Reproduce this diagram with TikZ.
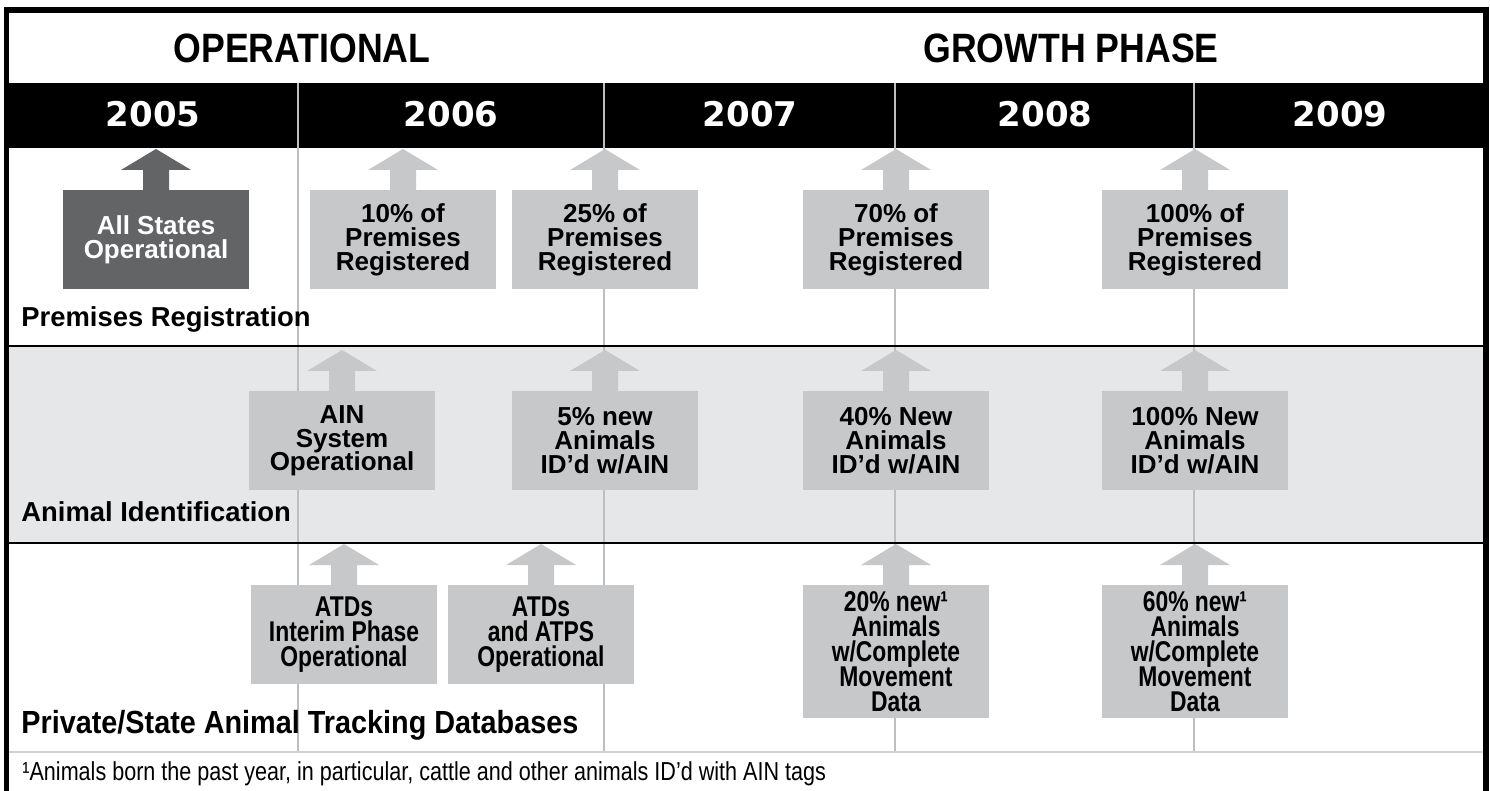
\documentclass[tikz,border=0pt]{standalone}
\usepackage{fontspec}
\setmainfont{Liberation Sans}
\newfontfamily\headfont{Liberation Sans}[FakeStretch=0.87]
\newfontfamily\yearfont{DejaVu Sans}
\newfontfamily\narrowfont{Liberation Sans}[FakeStretch=0.8]
\newfontfamily\rowlabelnarrow{Liberation Sans}[FakeStretch=0.9]
\newfontfamily\notefont{Liberation Sans}[FakeStretch=0.83]
\usetikzlibrary{calc}

\definecolor{boxgray}{HTML}{C7C8CA}
\definecolor{darkbox}{HTML}{636466}
\definecolor{bandgray}{HTML}{E6E7E8}
\definecolor{rulegray}{HTML}{BDBEC0}
\definecolor{notegray}{HTML}{D0D1D3}

\tikzset{
  milestone/.style={fill=boxgray, minimum width=93pt, minimum height=49.5pt,
    inner sep=0pt, align=center, anchor=north,
    font=\bfseries\fontsize{13}{11.9}\selectfont},
  milestonedark/.style={milestone, fill=darkbox, text=white},
  milestonenarrow/.style={milestone,
    font=\narrowfont\bfseries\fontsize{14.3}{12.5}\selectfont},
  milestonetall/.style={milestonenarrow, minimum height=66.5pt},
  phasetitle/.style={anchor=base, font=\headfont\bfseries\fontsize{20.5}{21}\selectfont},
  yeartitle/.style={anchor=base, text=white, font=\yearfont\bfseries\fontsize{17}{18}\selectfont},
  rowlabel/.style={anchor=base west, inner sep=0pt, font=\bfseries\fontsize{13.7}{14}\selectfont},
  divider/.style={draw=rulegray, line width=0.75pt},
  rowrule/.style={draw=black, line width=1.4pt},
}

% block arrow pointing up from the top edge of a milestone box
\newcommand\milearrow[2]{%
  \fill[#2] ($(#1.north)+(-13,0)$) -- ++(0,-20) -- ++(-22,0) -- ++(35,-21)
    -- ++(35,21) -- ++(-22,0) -- ++(0,20) -- cycle;}

\begin{document}
% keep line spacing even inside the tightly set boxes
\lineskiplimit=-20pt\relax
\begin{tikzpicture}[x=0.5pt,y=-0.5pt]
\useasboundingbox (0,0) rectangle (1490,791);

% row backgrounds and year band
\fill[bandgray] (9,346) rectangle (1483,543);
\fill[black] (9,83) rectangle (1483,148);

% year dividers
\foreach \x in {298,604,895,1194}
  \draw[divider] (\x,83) -- (\x,752);

% row and footnote rules
\draw[rowrule] (9,346) -- (1483,346);
\draw[rowrule] (9,543) -- (1483,543);
\draw[draw=notegray, line width=1pt] (9,752) -- (1483,752);

% outer frame
\draw[line width=2.9pt, line join=miter] (6.5,795) -- (6.5,10) -- (1486,10) -- (1486,795);

% phase titles
\node[phasetitle] (phaseop) at (302,63) {OPERATIONAL};
\node[phasetitle] (phasegr) at (1071,63) {GROWTH PHASE};

% years
\node[yeartitle] (y2005) at (153,127) {2005};
\node[yeartitle] (y2006) at (451,127) {2006};
\node[yeartitle] (y2007) at (750,127) {2007};
\node[yeartitle] (y2008) at (1045,127) {2008};
\node[yeartitle] (y2009) at (1340,127) {2009};

% premises registration
\node[milestonedark] (pr1) at (156,190) {All States\\Operational};
\node[milestone] (pr2) at (403,190) {10\% of\\Premises\\Registered};
\node[milestone] (pr3) at (605,190) {25\% of\\Premises\\Registered};
\node[milestone] (pr4) at (896,190) {70\% of\\Premises\\Registered};
\node[milestone] (pr5) at (1195,190) {100\% of\\Premises\\Registered};
\milearrow{pr1}{darkbox}
\foreach \n in {pr2,pr3,pr4,pr5} {\milearrow{\n}{boxgray}}

% animal identification
\node[milestone] (ai1) at (342,391) {AIN\\System\\Operational};
\node[milestone] (ai2) at (605,391) {5\% new\\Animals\\ID’d w/AIN};
\node[milestone] (ai3) at (896,391) {40\% New\\Animals\\ID’d w/AIN};
\node[milestone] (ai4) at (1195,391) {100\% New\\Animals\\ID’d w/AIN};
\foreach \n in {ai1,ai2,ai3,ai4} {\milearrow{\n}{boxgray}}

% animal tracking databases
\node[milestonenarrow] (tr1) at (344,585) {ATDs\\Interim Phase\\Operational};
\node[milestonenarrow] (tr2) at (541,585) {ATDs\\and ATPS\\Operational};
\node[milestonetall] (tr3) at (896,585) {20\% new¹\\Animals\\w/Complete\\Movement\\Data};
\node[milestonetall] (tr4) at (1195,585) {60\% new¹\\Animals\\w/Complete\\Movement\\Data};
\foreach \n in {tr1,tr2,tr3,tr4} {\milearrow{\n}{boxgray}}

% row labels
\node[rowlabel] (lbpr) at (21,327) {Premises Registration};
\node[rowlabel] (lbai) at (21,521) {Animal Identification};
\node[rowlabel, font=\rowlabelnarrow\bfseries\fontsize{16}{17}\selectfont] (lbtr) at (21,733) {Private/State Animal Tracking Databases};

% footnote
\node[anchor=base west, inner sep=0pt, font=\notefont\fontsize{13}{14}\selectfont] (note) at (22,780)
  {¹Animals born the past year, in particular, cattle and other animals ID’d with AIN tags};
\end{tikzpicture}
\end{document}
